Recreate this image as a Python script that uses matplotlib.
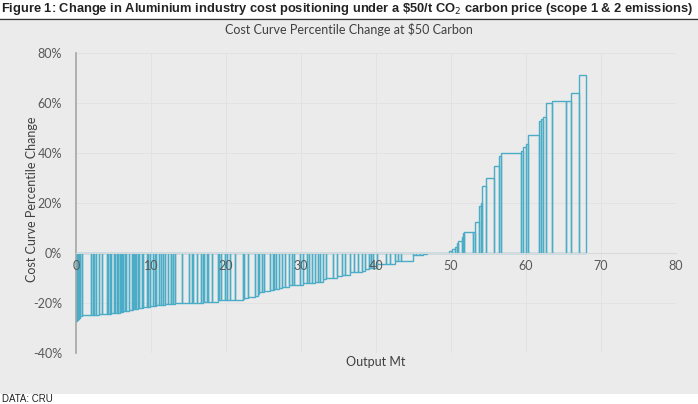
import numpy as np
import matplotlib
matplotlib.use('Agg')
import matplotlib.pyplot as plt
from matplotlib.patches import Rectangle
from matplotlib.ticker import FuncFormatter

# Output of each smelter (Mt), in cost curve order
output_mt = [0.1, 0.1, 0.15, 0.15, 0.25, 1.2, 0.25, 0.2, 0.3, 0.4,
             0.3, 0.7, 0.2, 0.2, 0.2, 0.3, 0.2, 0.2, 0.2, 0.2,
             0.1, 0.1, 0.15, 0.15, 0.2, 0.2, 0.3, 0.5, 0.1, 0.15,
             0.15, 0.1, 0.2, 0.2, 0.4, 0.1, 0.5, 0.2, 0.3, 0.3,
             0.3, 0.2, 0.3, 0.3, 0.3, 0.3, 0.4, 0.3, 0.1, 0.2,
             0.3, 0.9, 0.9, 0.4, 0.2, 0.5, 0.6, 0.2, 0.2, 0.3,
             0.2, 0.5, 0.8, 0.2, 0.2, 0.5, 0.3, 0.4, 0.7, 1.0,
             0.2, 0.5, 1.0, 0.3, 0.2, 0.4, 0.3, 0.8, 0.3, 0.2,
             0.3, 0.4, 0.3, 0.4, 0.6, 0.4, 0.3, 0.8, 0.4, 0.5,
             0.3, 0.3, 0.5, 0.3, 0.3, 0.4, 0.4, 1.0, 0.5, 0.6,
             0.5, 0.6, 0.5, 0.6, 0.5, 0.4, 0.5, 0.3, 0.3, 0.5,
             1.3, 0.5, 0.7, 0.4, 0.4, 1.6, 0.4, 0.5, 0.4, 0.5,
             3.0, 0.4, 0.3, 0.3, 0.2, 0.5, 0.1, 0.1, 1.2, 0.3,
             0.5, 0.3, 0.2, 0.5, 1.0, 0.7, 0.3, 2.6, 0.3, 0.4,
             0.3, 1.5, 0.2, 0.3, 0.4, 0.8, 1.8, 0.7, 1.1, 0.9]

# Cost curve percentile change (%)
pct_change = [-27.0, -26.6, -26.2, -25.8, -25.3, -24.8, -24.7, -24.7, -24.6, -24.6,
              -24.5, -24.4, -24.3, -24.3, -24.2, -24.1, -24.0, -24.0, -23.9, -23.8,
              -23.7, -23.6, -23.5, -23.4, -23.3, -23.2, -23.0, -22.8, -22.6, -22.5,
              -22.4, -22.3, -22.2, -22.0, -21.9, -21.8, -21.7, -21.5, -21.4, -21.3,
              -21.1, -21.0, -20.9, -20.8, -20.7, -20.6, -20.5, -20.4, -20.3, -20.3,
              -20.2, -20.1, -20.0, -19.9, -19.9, -19.9, -19.8, -19.8, -19.7, -19.7,
              -19.6, -19.6, -19.5, -18.8, -18.8, -18.8, -18.7, -18.7, -18.7, -18.6,
              -18.2, -17.8, -17.5, -17.0, -16.5, -15.5, -15.4, -15.3, -14.8, -14.6,
              -14.5, -14.4, -13.8, -13.7, -13.6, -12.9, -12.8, -12.8, -12.7, -12.0,
              -11.9, -11.9, -11.8, -11.7, -11.6, -11.5, -10.2, -10.1, -10.0, -9.0,
              -8.8, -8.7, -7.6, -7.5, -7.4, -7.3, -6.2, -6.1, -6.0, -5.9,
              -4.5, -4.3, -4.2, -3.2, -3.1, -3.0, -0.9, -0.8, -0.7, -0.5,
              -0.1, 0.8, 1.5, 2.5, 4.0, 4.8, 6.3, 7.9, 8.5, 8.6,
              12.3, 19.0, 20.0, 27.0, 30.0, 34.8, 38.8, 40.0, 41.0, 42.3,
              43.6, 47.2, 52.9, 53.5, 54.3, 60.1, 60.9, 60.9, 64.1, 71.3]

x_ticks = [0, 10, 20, 30, 40, 50, 60, 70, 80]
y_ticks = [-40, -20, 0, 20, 40, 60, 80]

widths = np.array(output_mt)
lefts = np.concatenate([[0], np.cumsum(widths)[:-1]])

fig = plt.figure(figsize=(6.98, 4.04), dpi=100)
fig.patch.set_facecolor('white')

head_font = ['Liberation Sans', 'DejaVu Sans']
lab_font = ['Lato', 'DejaVu Sans']

# grey chart panel
fig.patches.append(Rectangle((0, 10 / 404), 1, 1 - 31 / 404, transform=fig.transFigure,
                             facecolor='#ebebeb', edgecolor='none', zorder=-5))
# header + underline
fig.text(0.002, 1 - 9 / 404,
         r'Figure 1: Change in Aluminium industry cost positioning under a \$50/t CO$_2$ carbon price (scope 1 & 2 emissions)',
         fontsize=9.3, fontweight='bold', color='#222222', va='center', ha='left',
         family=head_font)
fig.add_artist(plt.Line2D([0, 1], [1 - 19 / 404, 1 - 19 / 404], color='#333333', lw=1.0,
                          transform=fig.transFigure))
fig.text(0.003, 1 - 399 / 404, 'DATA: CRU', fontsize=7, color='#222222', va='center',
         family=head_font)

ax = fig.add_axes([76 / 698, 1 - 353 / 404, 600 / 698, 300 / 404])
ax.set_zorder(2)
ax.set_facecolor('none')
ax.set_axisbelow(False)

# faint gridlines behind the bars
for xv in x_ticks[1:]:
    ax.axvline(xv, color='#e2e2e2', lw=0.7, zorder=0)
for yv in y_ticks:
    ax.axhline(yv, color='#e2e2e2', lw=0.7, zorder=0)

ax.bar(lefts, pct_change, width=widths, align='edge', fill=False,
       edgecolor='#4aacc6', linewidth=1.0, zorder=1)

ax.set_xlim(0, 80)
ax.set_ylim(-40, 80)
ax.set_xticks(x_ticks)
ax.set_yticks(y_ticks)
ax.yaxis.set_major_formatter(FuncFormatter(lambda v, p: f'{v:.0f}%'))

for s in ['top', 'right']:
    ax.spines[s].set_visible(False)
ax.spines['bottom'].set_position(('data', 0))
ax.spines['bottom'].set_color('#d9d9d9')
ax.spines['left'].set_color('#a6a6a6')
ax.spines['left'].set_linewidth(1.2)
ax.tick_params(length=0, labelsize=9, labelcolor='#595959')
ax.tick_params(axis='y', pad=10)
ax.tick_params(axis='x', pad=5)

for lab in ax.get_xticklabels() + ax.get_yticklabels():
    lab.set_family(lab_font)

fig.text(376 / 698, 1 - 362 / 404, 'Output Mt', fontsize=9, color='#404040',
         ha='center', va='center', family=lab_font)
fig.text(32 / 698, 1 - 199 / 404, 'Cost Curve Percentile Change', fontsize=9, color='#404040',
         ha='center', va='center', rotation=90, family=lab_font)
fig.text(0.5, 1 - 30 / 404, 'Cost Curve Percentile Change at $50 Carbon', fontsize=9,
         color='#404040', ha='center', va='center', family=lab_font)

fig.savefig('out.png', dpi=100)
